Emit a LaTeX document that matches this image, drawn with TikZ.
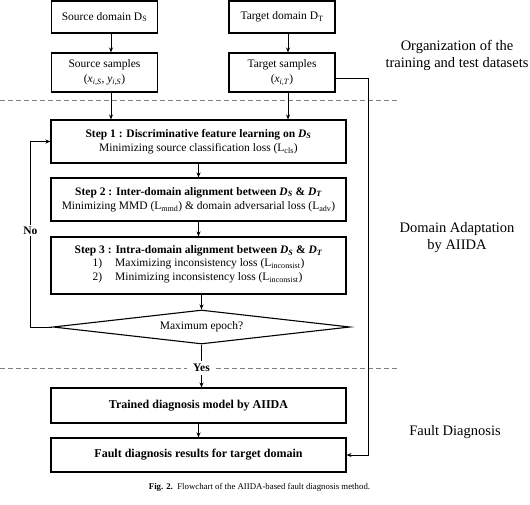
\documentclass[tikz,border=0pt]{standalone}
\usepackage{fontspec}
\setmainfont{Liberation Serif}
\usetikzlibrary{arrows.meta,shapes.geometric}
\newcommand{\boxfont}{\fontsize{11.5}{14.5}\selectfont}
\newcommand{\sidefont}{\fontsize{14.5}{17}\selectfont}
\tikzset{
  blk/.style={draw,line width=1.1pt,minimum height=#1,inner sep=2pt,align=center,font=\boxfont},
  blk/.default=34pt,
  arr/.style={line width=0.9pt,-{Stealth[length=5pt,width=4pt]}},
  sep/.style={gray,line width=0.7pt,dash pattern=on 5pt off 3pt},
  side/.style={align=center,font=\sidefont}
}
\begin{document}
\begin{tikzpicture}[x=1pt,y=-1pt]
		\useasboundingbox (0,0) rectangle (530,504);
		\begin{scope}
			% datasets
			\node[blk=32pt,minimum width=106pt] (srcdom) at (104.5,17) {Source domain D\textsubscript{S}};
			\node[blk=32pt,minimum width=106pt] (tgtdom) at (282,17) {Target domain D\textsubscript{T}};
			\node[blk=39pt,minimum width=106pt] (srcsmp) at (104.5,72.5) {Source samples\\(\textit{x}\textsubscript{\textit{i,S}}, \textit{y}\textsubscript{\textit{i,S}})};
			\node[blk=39pt,minimum width=106pt] (tgtsmp) at (282,72.5) {Target samples\\(\textit{x}\textsubscript{\textit{i,T}})};
			% training steps
			\node[blk=43pt,minimum width=295pt] (step1) at (198.5,141.5) {\textbf{Step 1 : Discriminative feature learning on \textit{D\textsubscript{S}}}\\Minimizing source classification loss (L\textsubscript{cls})};
			\node[blk=43pt,minimum width=295pt] (step2) at (198.5,199.5) {\textbf{Step 2 : Inter-domain alignment between \textit{D\textsubscript{S}} \& \textit{D\textsubscript{T}}}\\Minimizing MMD (L\textsubscript{mmd}) \& domain adversarial loss (L\textsubscript{adv})};
			\node[blk=57pt,minimum width=295pt] (step3) at (198.5,265.5) {\textbf{Step 3 : Intra-domain alignment between \textit{D\textsubscript{S}} \& \textit{D\textsubscript{T}}}\\[-1pt]
				\begin{tabular}{@{}l@{\hspace{13pt}}l@{}}
				1) & Maximizing inconsistency loss (L\textsubscript{inconsist})\\
				2) & Minimizing inconsistency loss (L\textsubscript{inconsist})
				\end{tabular}};
			\node[draw,diamond,line width=1.1pt,aspect=8.7,inner sep=0pt,minimum width=297pt,minimum height=34pt,font=\boxfont] (chk) at (201.5,327) {Maximum epoch?};
			% diagnosis
			\node[blk=35pt,minimum width=295pt,font=\fontsize{12}{14}\selectfont\bfseries] (model) at (198.5,405.5) {Trained diagnosis model by AIIDA};
			\node[blk=34pt,minimum width=295pt,font=\fontsize{12}{14}\selectfont\bfseries] (fault) at (198.5,455) {Fault diagnosis results for target domain};
		\end{scope}
		\foreach \y in {100,368}
		{
			\draw[sep] (0,\y) -- (400,\y);
		}
		\coordinate (sa) at ([xshift=6.5pt]srcsmp.south);
		\coordinate (ta) at ([xshift=6pt]tgtsmp.south);
		\draw[arr] ([xshift=6.5pt]srcdom.south) -- ([xshift=6.5pt]srcsmp.north);
		\draw[arr] ([xshift=6pt]tgtdom.south) -- ([xshift=6pt]tgtsmp.north);
		\draw[arr] (sa) -- (sa |- step1.north);
		\draw[arr] (ta) -- (ta |- step1.north);
		\draw[arr] (step1) -- (step2);
		\draw[arr] (step2) -- (step3);
		\draw[arr] (step3.south -| chk.north) -- (chk.north);
		\draw[arr] (chk.west) -- ++(-22,0) |- node[pos=0.26,fill=white,inner sep=2pt,font=\boxfont\bfseries] {No} (step1.west);
		\draw[arr] (chk.south) -- node[pos=0.55,fill=white,inner xsep=6pt,font=\boxfont\bfseries] {Yes} (model.north -| chk.south);
		\draw[arr] (model) -- (fault);
		\coordinate (tap) at (368,78);
		\draw[arr] ([yshift=-5.5pt]tgtsmp.east) -- (tap) |- (fault.east);
		% stage labels
		\node[side] (orgl) at (457,55) {Organization of the\\training and test datasets};
		\node[side] (dal) at (457,238) {Domain Adaptation\\by AIIDA};
		\node[side] (fdl) at (455,432) {Fault Diagnosis};
		\node[font=\fontsize{8.8}{10}\selectfont] (cap) at (259.5,487) {\textbf{Fig. 2.}\enspace Flowchart of the AIIDA-based fault diagnosis method.};
\end{tikzpicture}
\end{document}
